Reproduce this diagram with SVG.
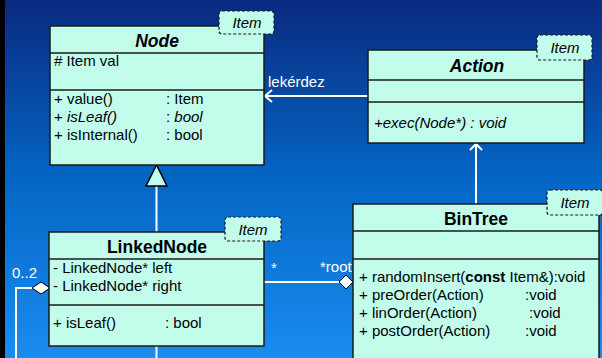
<svg xmlns="http://www.w3.org/2000/svg" width="602" height="358" viewBox="0 0 602 358">
<defs>
<linearGradient id="bg" x1="0" y1="0" x2="0" y2="1">
<stop offset="0" stop-color="#0a2a80"/>
<stop offset="0.5" stop-color="#0466c4"/>
<stop offset="1" stop-color="#1a8cf0"/>
</linearGradient>
<style>
.box{fill:#c2fdec;stroke:#1a1a1a;stroke-width:1.5}
.div{stroke:#1a1a1a;stroke-width:1.5}
.tag{fill:#c2fdec;stroke:#1a1a1a;stroke-width:1.2;stroke-dasharray:3 2}
.tagt{font-family:"Liberation Sans",Arial,sans-serif;font-size:15px;font-style:italic;fill:#000;text-anchor:middle}
.title{font-family:"Liberation Sans",Arial,sans-serif;font-size:17.5px;font-weight:bold;fill:#000;text-anchor:middle}
.t{font-family:"Liberation Sans",Arial,sans-serif;font-size:15px;fill:#000}
.w{font-family:"Liberation Sans",Arial,sans-serif;font-size:15px;fill:#fff}
.ln{stroke:#fff;stroke-width:2;fill:none}
</style>
</defs>
<rect width="602" height="358" fill="url(#bg)"/>
<rect x="0" y="0" width="5" height="358" fill="#000"/>

<g id="connectors">
<line class="ln" x1="156.5" y1="232" x2="156.5" y2="186"/>
<polygon points="156.5,165 146,186 167,186" fill="#c2fdec" stroke="#000" stroke-width="1.5"/>
<line class="ln" x1="368" y1="96" x2="265" y2="96"/>
<polyline class="ln" points="272,90 265,96 272,102"/>
<text class="w" x="268" y="87">lekérdez</text>
<line class="ln" x1="476" y1="204" x2="476" y2="144"/>
<polyline class="ln" points="470,150 476,144 482,150"/>
<line class="ln" x1="264" y1="282" x2="340" y2="282"/>
<polygon points="339,282 346,275 353,282 346,289" fill="#fff" stroke="#000" stroke-width="1"/>
<text class="w" x="271" y="273">*</text>
<text class="w" x="320" y="272">*root</text>
<polyline class="ln" points="34,288 16,288 16,358"/>
<polygon points="32,288 41,282 50,288 41,294" fill="#fff" stroke="#000" stroke-width="1"/>
<line class="ln" x1="156.5" y1="346" x2="156.5" y2="358"/>
<text class="w" x="12" y="278">0..2</text>
</g>

<g id="Node">
<rect class="box" x="50" y="26" width="214" height="139"/>
<line class="div" x1="50" y1="53" x2="264" y2="53"/>
<line class="div" x1="50" y1="90" x2="264" y2="90"/>
<text class="title" x="157" y="47" font-style="italic">Node</text>
<text class="t" x="54" y="66"># Item val</text>
<text class="t" x="54" y="104">+ value()</text>
<text class="t" x="166" y="104">: Item</text>
<text class="t" x="54" y="122">+ <tspan font-style="italic">isLeaf()</tspan></text>
<text class="t" x="166" y="122">: <tspan font-style="italic">bool</tspan></text>
<text class="t" x="54" y="140">+ isInternal()</text>
<text class="t" x="166" y="140">: bool</text>
<rect class="tag" x="219" y="11" width="55" height="23" rx="3"/>
<text class="tagt" x="247" y="28">Item</text>
</g>

<g id="Action">
<rect class="box" x="368" y="50" width="216" height="93"/>
<line class="div" x1="368" y1="80" x2="584" y2="80"/>
<line class="div" x1="368" y1="102" x2="584" y2="102"/>
<text class="title" x="477" y="72" font-style="italic">Action</text>
<text class="t" x="374" y="128" font-style="italic">+exec(Node*) : void</text>
<rect class="tag" x="537" y="35" width="55" height="25" rx="3"/>
<text class="tagt" x="565" y="53">Item</text>
</g>

<g id="LinkedNode">
<rect class="box" x="49" y="232" width="215" height="114"/>
<line class="div" x1="49" y1="259" x2="264" y2="259"/>
<line class="div" x1="49" y1="305" x2="264" y2="305"/>
<text class="title" x="157" y="253">LinkedNode</text>
<text class="t" x="53" y="273">- LinkedNode* left</text>
<text class="t" x="53" y="291">- LinkedNode* right</text>
<text class="t" x="53" y="328">+ isLeaf()</text>
<text class="t" x="165" y="328">: bool</text>
<rect class="tag" x="225" y="217" width="56" height="24" rx="3"/>
<text class="tagt" x="253" y="235">Item</text>
</g>

<g id="BinTree">
<rect class="box" x="353" y="204" width="246" height="160"/>
<line class="div" x1="353" y1="231" x2="599" y2="231"/>
<line class="div" x1="353" y1="259" x2="599" y2="259"/>
<text class="title" x="476" y="225">BinTree</text>
<text class="t" x="359" y="282">+ randomInsert(<tspan font-weight="bold">const</tspan> Item&amp;):void</text>
<text class="t" x="359" y="300">+ preOrder(Action)</text>
<text class="t" x="525" y="300">:void</text>
<text class="t" x="359" y="318">+ linOrder(Action)</text>
<text class="t" x="529" y="318">:void</text>
<text class="t" x="359" y="336">+ postOrder(Action)</text>
<text class="t" x="525" y="336">:void</text>
<rect class="tag" x="547" y="190" width="56" height="25" rx="3"/>
<text class="tagt" x="575" y="208">Item</text>
</g>
</svg>
